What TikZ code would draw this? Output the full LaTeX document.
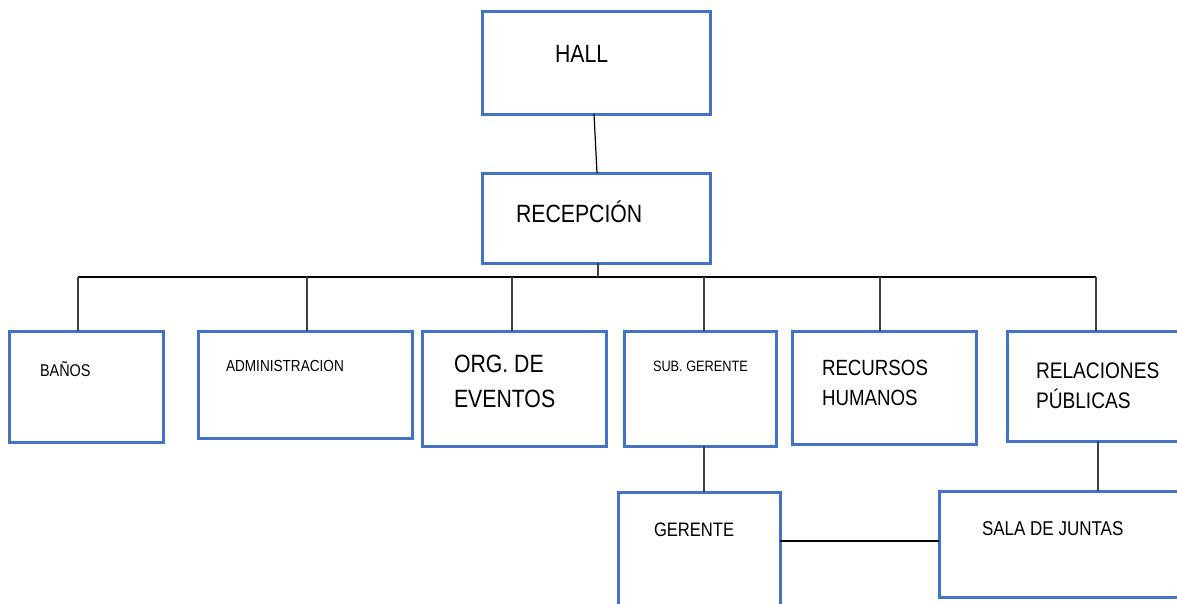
\documentclass[tikz,border=0pt]{standalone}
\usepackage{fontspec}
\setmainfont{Liberation Sans}[FakeStretch=0.85]
\newcommand{\twoln}[3]{\vtop{\baselineskip=#3pt\hbox{#1}\hbox{#2}}}
\newcommand{\fsz}[1]{\fontsize{#1}{#1}\selectfont}
\definecolor{boxblue}{HTML}{4472C4}
\definecolor{conn}{HTML}{404040}
\begin{document}
\begin{tikzpicture}[x=1pt,y=-1pt,
  box/.style={draw=boxblue, line width=3pt, rectangle, inner sep=0pt, outer sep=0pt, fill=none},
  lbl/.style={anchor=base west, inner sep=0pt, outer sep=0pt, text=black},
  link/.style={draw=conn, line width=1.6pt},
  busline/.style={draw=black, line width=1.3pt}]
\useasboundingbox (0,0) rectangle (1177,603);
\clip (0,0) rectangle (1177,603);
% boxes
\node[box, minimum width=228pt, minimum height=103pt] (hall) at (596,62.5) {};
\node[box, minimum width=228pt, minimum height=90pt] (recep) at (596,218) {};
\node[box, minimum width=154pt, minimum height=111pt] (banos) at (86,386.5) {};
\node[box, minimum width=214pt, minimum height=107pt] (admin) at (305,384.5) {};
\node[box, minimum width=184pt, minimum height=115pt] (org) at (514,388.5) {};
\node[box, minimum width=152pt, minimum height=115pt] (sub) at (700,388.5) {};
\node[box, minimum width=184pt, minimum height=113pt] (recur) at (884,387.5) {};
\node[box, minimum width=193pt, minimum height=110pt] (relac) at (1103.5,386) {};
\node[box, minimum width=162pt, minimum height=128pt] (ger) at (699,556) {};
\node[box, minimum width=261pt, minimum height=106pt] (sala) at (1069.5,544) {};
% labels
\node[lbl] (thall) at (555,62) {\fsz{25}HALL};
\node[lbl] (trecep) at (516,222) {\fsz{25}RECEPCIÓN};
\node[lbl] (tbanos) at (40,376) {\fsz{17}BAÑOS};
\node[lbl] (tadmin) at (226,371) {\fsz{16}ADMINISTRACION};
\node[lbl] (torg) at (454,372) {\fsz{25}\twoln{ORG. DE}{EVENTOS}{35}};
\node[lbl] (tsub) at (653,371) {\fsz{15}SUB. GERENTE};
\node[lbl] (trecur) at (822,375) {\fsz{22}\twoln{RECURSOS}{HUMANOS}{30}};
\node[lbl] (trelac) at (1036,378) {\fsz{22.5}\twoln{RELACIONES}{PÚBLICAS}{30}};
\node[lbl] (tger) at (654,536) {\fsz{19.5}GERENTE};
\node[lbl] (tsala) at (982,535) {\fsz{20}SALA DE JUNTAS};
% bus coordinates
\coordinate (busL) at (78,277);
\coordinate (busR) at (1096,277);
\coordinate (bRec) at (598,277);
\coordinate (b2) at (307,277);
\coordinate (b3) at (512,277);
\coordinate (b4) at (704,277);
\coordinate (b5) at (880,277);
\coordinate (sg) at (704,0);
\coordinate (rs) at (1098,0);
\coordinate (gs) at (0,541);
% connectors
\draw[link, draw=black, line width=1.2pt] ([xshift=-2pt]hall.south) -- ([xshift=1pt]recep.north);
\draw[busline] (busL) -- (busR);
\draw[link] (bRec |- recep.south) -- (bRec);
\draw[link] (busL) -- (busL |- banos.north);
\draw[link] (b2) -- (b2 |- admin.north);
\draw[link] (b3) -- (b3 |- org.north);
\draw[link] (b4) -- (b4 |- sub.north);
\draw[link] (b5) -- (b5 |- recur.north);
\draw[link] (busR) -- (busR |- relac.north);
\draw[link] (sg |- sub.south) -- (sg |- ger.north);
\draw[link] (rs |- relac.south) -- (rs |- sala.north);
\draw[busline, line width=1.2pt] (ger.east |- gs) -- (sala.west |- gs);
\end{tikzpicture}
\end{document}
